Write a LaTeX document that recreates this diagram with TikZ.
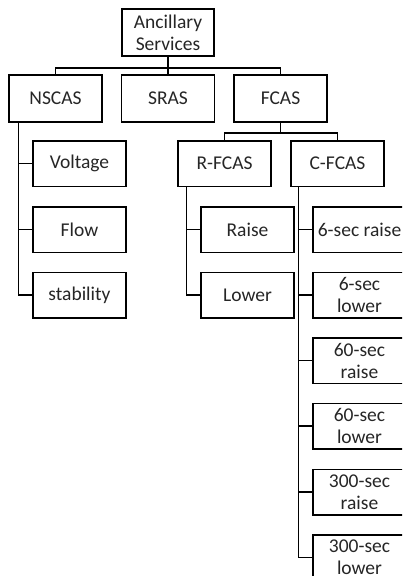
\documentclass[tikz,border=0pt]{standalone}
\usepackage{fontspec}
\setmainfont{Carlito}
\begin{document}
\begin{tikzpicture}[x=1pt,y=-1pt,
  box/.style={draw, line width=1.5pt, minimum width=93pt, minimum height=45.5pt, inner sep=0pt, align=center, font=\fontsize{19.5}{22}\selectfont, text=black!85},
  top/.style={box, minimum height=47pt},
  conn/.style={line width=1.5pt}]
\useasboundingbox (0,0) rectangle (402,576);
\clip (0,0) rectangle (402,576);
\fill[white] (0,0) rectangle (402,576);
\node[top, minimum width=92pt] (root) at (168,32.5) {Ancillary\\Services};
\node[top] (nscas) at (55.5,98.5) {NSCAS};
\node[top] (sras) at (168,98.5) {SRAS};
\node[top] (fcas) at (280.5,98.5) {FCAS};
\node[box] (rfcas) at (224.5,163.5) {R-FCAS};
\node[box] (cfcas) at (337.5,163.5) {C-FCAS};
\node[box] (voltage) at (79.5,163.5) {Voltage};
\node[box] (flow) at (79.5,229.5) {Flow};
\node[box] (stability) at (79.5,295) {stability};
\node[box] (raise) at (247.5,229.5) {Raise};
\node[box] (lower) at (247.5,295) {Lower};
\node[box] (c1) at (359.5,229.5) {6-sec raise};
\node[box] (c2) at (359.5,295) {6-sec\\lower};
\node[box] (c3) at (359.5,360.5) {60-sec\\raise};
\node[box] (c4) at (359.5,426) {60-sec\\lower};
\node[box] (c5) at (359.5,492) {300-sec\\raise};
\node[box] (c6) at (359.5,557.5) {300-sec\\lower};
% top level connectors
\draw[conn] (root.south) -- ++(0,11) -| (nscas.north);
\draw[conn] (root.south) -- ++(0,11) -| (fcas.north);
\draw[conn] (root.south) -- (sras.north);
\draw[conn] (fcas.south) -- ++(0,10) -| (rfcas.north);
\draw[conn] (fcas.south) -- ++(0,10) -| (cfcas.north);
% NSCAS children
\draw[conn] ([xshift=10pt]nscas.south west) |- (voltage.west);
\draw[conn] ([xshift=10pt]nscas.south west) |- (flow.west);
\draw[conn] ([xshift=10pt]nscas.south west) |- (stability.west);
% R-FCAS children
\draw[conn] ([xshift=9pt]rfcas.south west) |- (raise.west);
\draw[conn] ([xshift=9pt]rfcas.south west) |- (lower.west);
% C-FCAS children
\foreach \c in {c1,c2,c3,c4,c5,c6}
  \draw[conn] ([xshift=8pt]cfcas.south west) |- (\c.west);
\end{tikzpicture}
\end{document}
